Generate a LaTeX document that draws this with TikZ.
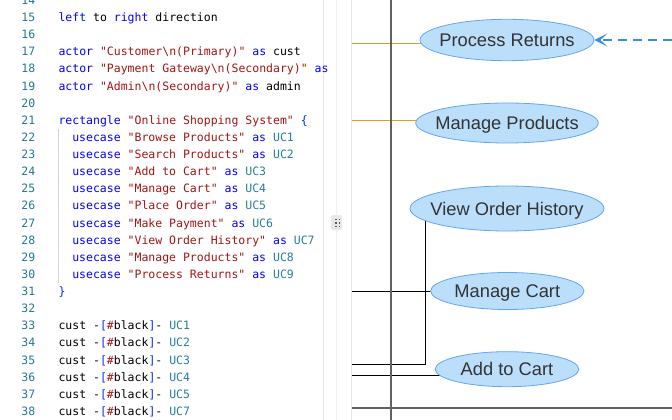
\documentclass[tikz,border=0pt]{standalone}
\usepackage{fontspec}
\usetikzlibrary{arrows.meta,shapes.geometric,backgrounds}

\newfontfamily\codefont{DejaVu Sans Mono}
\newfontfamily\ucfont{Liberation Sans}

\definecolor{kwblue}{HTML}{0000FF}
\definecolor{strred}{HTML}{A31515}
\definecolor{ucteal}{HTML}{267F99}
\definecolor{lnteal}{HTML}{237893}
\definecolor{brkblue}{HTML}{0431FA}
\definecolor{ucfill}{HTML}{BBDEFB}
\definecolor{ucborder}{HTML}{64A5EE}
\definecolor{uctext}{HTML}{333333}
\definecolor{admorange}{RGB}{224,160,40}
\definecolor{depblue}{HTML}{3A8BE3}

\newcommand{\kwd}[1]{\textcolor{kwblue}{#1}}
\newcommand{\codestr}[1]{\textcolor{strred}{#1}}
\newcommand{\ucid}[1]{\textcolor{ucteal}{#1}}
\newcommand{\brk}[1]{\textcolor{brkblue}{#1}}
\newcommand{\bs}{\textbackslash}
\newcommand{\uclabel}[1]{\makebox[0pt]{#1}}

\begin{document}
\begin{tikzpicture}[x=1pt, y=-1pt,
  code/.style={font=\codefont\fontsize{11.5}{13}\selectfont, anchor=base west,
               inner sep=0pt, text=black},
  lnum/.style={font=\codefont\fontsize{11.5}{13}\selectfont, anchor=base east,
               inner sep=0pt, text=lnteal},
  usecase/.style={ellipse, draw=ucborder, fill=ucfill, text=uctext, inner sep=0pt,
                  line width=0.8pt, text height=13pt, text depth=0pt,
                  font=\ucfont\fontsize{18.3}{20}\selectfont},
  link/.style={draw=black, line width=1.2pt},
  linkor/.style={draw=admorange, line width=1.4pt},
  dasharrow/.style={draw=depblue, line width=1.5pt, dash pattern=on 9pt off 6pt,
                    -{Stealth[length=13pt, width=13pt, inset=7pt]}},
  frame/.style={draw=black!62, line width=1.5pt},
  guide/.style={draw=black!10, line width=0.8pt}]

\useasboundingbox (0,0) rectangle (672,420);
\clip (0,0) rectangle (672,420);

% editor gutter and splitter
\draw[guide] (323.5,0) -- (323.5,420);
\draw[guide, draw=black!6] (336.5,0) -- (336.5,420);
\draw[guide] (351.5,0) -- (351.5,420);
\draw[guide, draw=black!17] (58.5,129) -- (58.5,283);
\fill[black!9, rounded corners=1.5pt] (331,215) rectangle (342,230);
\foreach \gx in {335,338.5}
  \foreach \gy in {218.5,222,225.5}
    \fill[black!65] (\gx,\gy) rectangle ++(1.6,1.6);

% line numbers
\foreach \n in {14,...,38}
  \node[lnum] (n\n) at (35.5,{21.5+(\n-15)*17.13}) {\n};

% source lines
\node[code] (l15) at (58.3,21.5)  {\kwd{left} to \kwd{right} direction};
\node[code] (l17) at (58.3,55.76) {\kwd{actor} \codestr{"Customer\bs n(Primary)"} \kwd{as} cust};
\node[code] (l18) at (58.3,72.89) {\kwd{actor} \codestr{"Payment Gateway\bs n(Secondary)"} \kwd{as}};
\node[code] (l19) at (58.3,90.02) {\kwd{actor} \codestr{"Admin\bs n(Secondary)"} \kwd{as} admin};
\node[code] (l21) at (58.3,124.28) {\kwd{rectangle} \codestr{"Online Shopping System"} \brk{\{}};
\node[code] (l22) at (72.1,141.41) {\kwd{usecase} \codestr{"Browse Products"} \kwd{as} \ucid{UC1}};
\node[code] (l23) at (72.1,158.54) {\kwd{usecase} \codestr{"Search Products"} \kwd{as} \ucid{UC2}};
\node[code] (l24) at (72.1,175.67) {\kwd{usecase} \codestr{"Add to Cart"} \kwd{as} \ucid{UC3}};
\node[code] (l25) at (72.1,192.80) {\kwd{usecase} \codestr{"Manage Cart"} \kwd{as} \ucid{UC4}};
\node[code] (l26) at (72.1,209.93) {\kwd{usecase} \codestr{"Place Order"} \kwd{as} \ucid{UC5}};
\node[code] (l27) at (72.1,227.06) {\kwd{usecase} \codestr{"Make Payment"} \kwd{as} \ucid{UC6}};
\node[code] (l28) at (72.1,244.19) {\kwd{usecase} \codestr{"View Order History"} \kwd{as} \ucid{UC7}};
\node[code] (l29) at (72.1,261.32) {\kwd{usecase} \codestr{"Manage Products"} \kwd{as} \ucid{UC8}};
\node[code] (l30) at (72.1,278.45) {\kwd{usecase} \codestr{"Process Returns"} \kwd{as} \ucid{UC9}};
\node[code] (l31) at (58.3,295.58) {\brk{\}}};
\node[code] (l33) at (58.3,329.84) {cust -\brk{[}\codestr{\#}black\brk{]}- \ucid{UC1}};
\node[code] (l34) at (58.3,346.97) {cust -\brk{[}\codestr{\#}black\brk{]}- \ucid{UC2}};
\node[code] (l35) at (58.3,364.10) {cust -\brk{[}\codestr{\#}black\brk{]}- \ucid{UC3}};
\node[code] (l36) at (58.3,381.23) {cust -\brk{[}\codestr{\#}black\brk{]}- \ucid{UC4}};
\node[code] (l37) at (58.3,398.36) {cust -\brk{[}\codestr{\#}black\brk{]}- \ucid{UC5}};
\node[code] (l38) at (58.3,415.49) {cust -\brk{[}\codestr{\#}black\brk{]}- \ucid{UC7}};

% diagram preview
\draw[frame] (391,0) -- (391,420);
\draw[frame] (351.7,408) -- (672,408);

\node[usecase, minimum width=174pt, minimum height=41.4pt] (ret)  at (507,40)    {\uclabel{Process Returns}};
\node[usecase, minimum width=182.6pt, minimum height=40pt] (prod) at (507,123)   {\uclabel{Manage Products}};
\node[usecase, minimum width=194pt, minimum height=45pt]   (hist) at (507,208.5) {\uclabel{View Order History}};
\node[usecase, minimum width=153.4pt, minimum height=37pt] (cart) at (507.3,291) {\uclabel{Manage Cart}};
\node[usecase, minimum width=143.6pt, minimum height=35pt] (add)  at (507,369.2) {\uclabel{Add to Cart}};

\coordinate (cust-ret)  at (351.7,43.5);
\coordinate (cust-prod) at (351.7,120.5);
\coordinate (cust-hist) at (351.7,364.5);
\coordinate (cust-cart) at (351.7,291.5);
\coordinate (cust-add)  at (351.7,375.5);
\coordinate (admin-end) at (672,40);

% associations run under the use cases
\begin{scope}[on background layer]
\fill[white] (0,0) rectangle (672,420);
\draw[linkor] (cust-ret) -- (cust-ret -| ret.center);
\draw[linkor] (cust-prod) -- (cust-prod -| prod.center);
\draw[link] (cust-hist) -| ([xshift=-81.5pt]hist.center);
\draw[link] (cust-cart) -- (cust-cart -| cart.center);
\draw[link] (cust-add) -- (cust-add -| add.center);
\end{scope}
\draw[dasharrow] (admin-end) -- (ret.east);
\end{tikzpicture}
\end{document}
